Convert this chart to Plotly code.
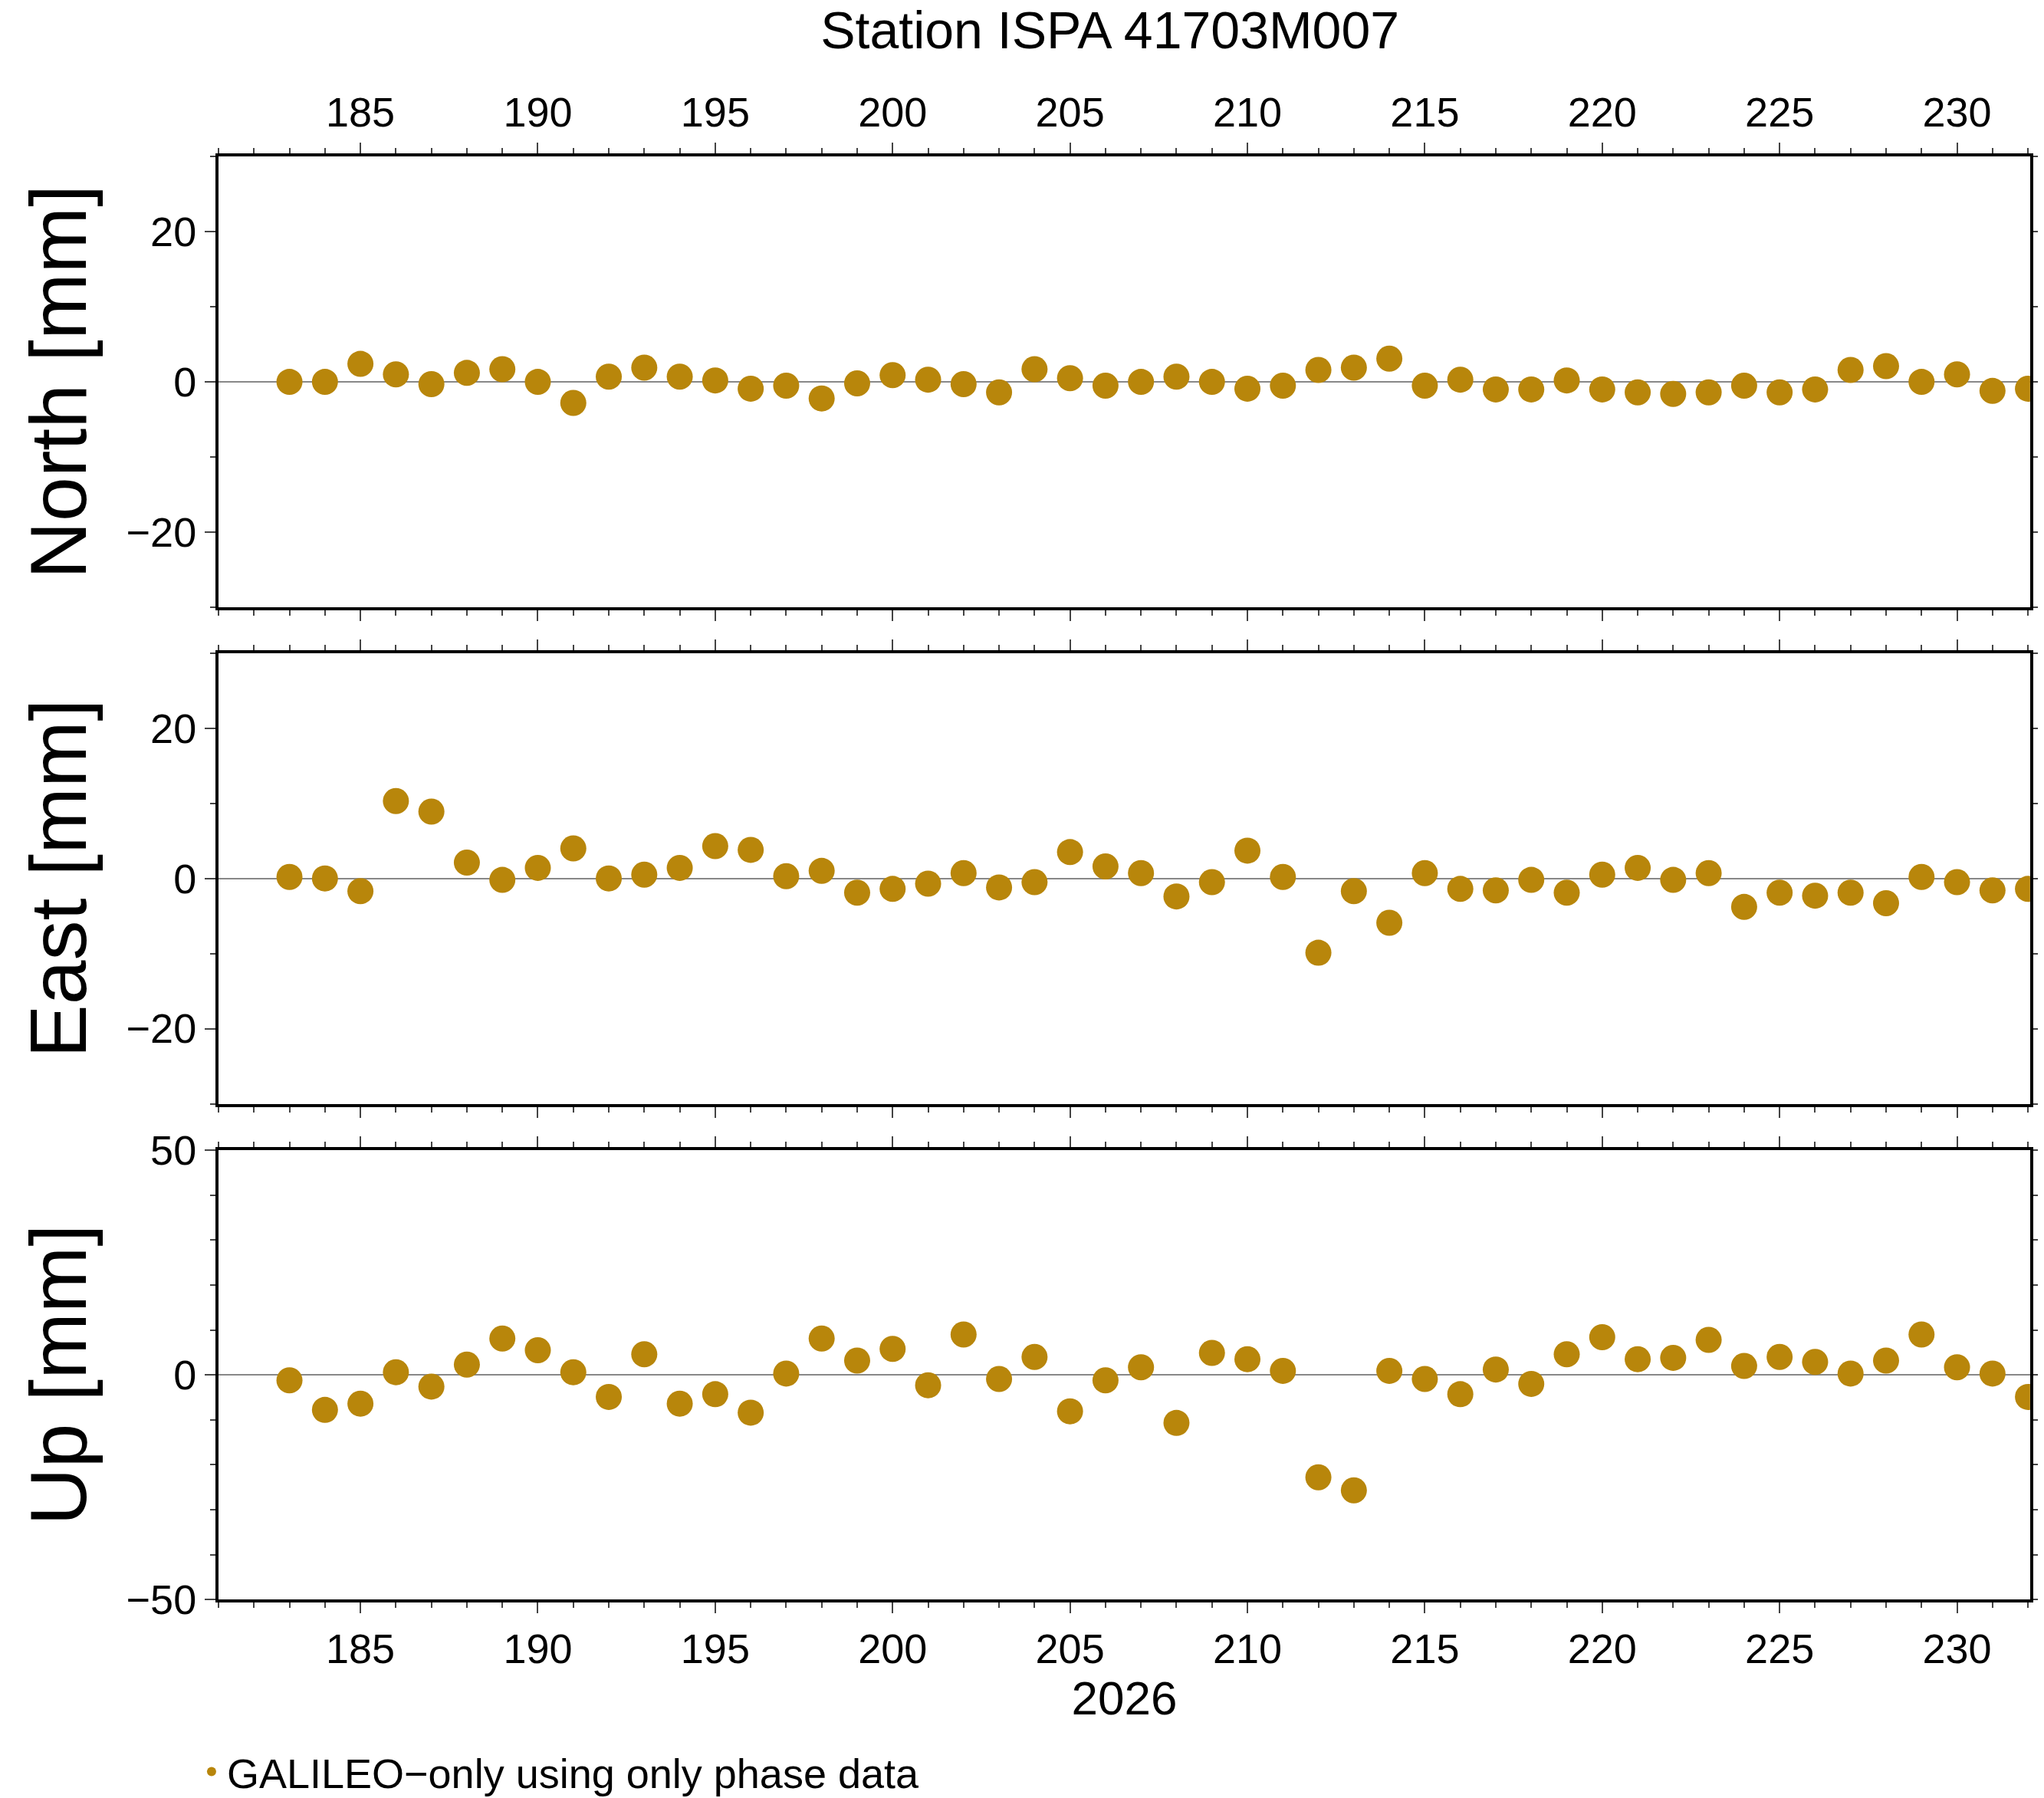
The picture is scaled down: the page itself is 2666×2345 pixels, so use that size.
import plotly.graph_objects as go
from plotly.subplots import make_subplots

days = list(range(183, 233))
north = [0, 0, 2.4, 1, -0.3, 1.2, 1.7, 0, -2.8, 0.7, 1.9, 0.7, 0.2, -0.9, -0.5, -2.2, -0.2, 0.9, 0.3, -0.3,
         -1.4, 1.7, 0.5, -0.5, 0, 0.7, 0, -0.9, -0.5, 1.6, 1.9, 3.1, -0.5, 0.3, -1, -1, 0.2, -1, -1.4, -1.6,
         -1.4, -0.5, -1.4, -1, 1.6, 2.1, 0, 1, -1.2, -0.9]
east = [0.2, 0, -1.7, 10.3, 8.9, 2.1, -0.2, 1.4, 4, 0, 0.5, 1.4, 4.3, 3.8, 0.3, 1, -1.9, -1.4, -0.7, 0.7,
        -1.2, -0.5, 3.5, 1.6, 0.7, -2.4, -0.5, 3.7, 0.2, -9.9, -1.7, -5.9, 0.7, -1.4, -1.6, -0.2, -1.9, 0.5, 1.4, -0.2,
        0.7, -3.8, -1.9, -2.3, -1.9, -3.3, 0.2, -0.5, -1.6, -1.4]
up = [-1.2, -7.8, -6.4, 0.6, -2.6, 2.3, 8.1, 5.5, 0.6, -4.9, 4.6, -6.4, -4.3, -8.4, 0.3, 8.1, 3.2, 5.8, -2.3, 9,
      -0.9, 4, -8.1, -1.2, 1.7, -10.7, 4.9, 3.5, 0.9, -22.8, -25.7, 0.9, -0.9, -4.3, 1.2, -2, 4.6, 8.4, 3.5, 3.8,
      7.8, 2, 4, 2.9, 0.3, 3.2, 9, 1.7, 0.3, -4.9]

panels = [("North [mm]", north, [-30, 30], 20, 10),
          ("East [mm]", east, [-30, 30], 20, 10),
          ("Up [mm]", up, [-50, 50], 50, 10)]
domains = [[0.6644, 0.9160], [0.3872, 0.6388], [0.1104, 0.3612]]
color = "#B8860B"
font = "Liberation Sans, Arial, sans-serif"

fig = make_subplots(rows=3, cols=1)

for i, (title, vals, yr, dt, mdt) in enumerate(panels):
    r = i + 1
    fig.add_trace(go.Scatter(x=days, y=vals, mode="markers",
                             marker=dict(color=color, size=34),
                             name="GALILEO\u2212only using only phase data",
                             showlegend=(i == 0)), row=r, col=1)
    fig.update_yaxes(range=yr, dtick=dt, tick0=0, domain=domains[i], automargin=False,
                     title=dict(text=title, font=dict(size=104), standoff=18),
                     showgrid=False, zeroline=True, zerolinecolor="#888", zerolinewidth=1.5,
                     showline=True, linecolor="black", linewidth=4, mirror="ticks",
                     ticks="outside", ticklen=14, tickwidth=2,
                     minor=dict(dtick=mdt, ticks="outside", ticklen=7, tickwidth=2),
                     row=r, col=1)
    fig.update_xaxes(range=[181, 232.06], dtick=5, tick0=0, domain=[0.1039, 0.9902], automargin=False,
                     showgrid=False, zeroline=False,
                     showline=True, linecolor="black", linewidth=4, mirror="ticks",
                     ticks="outside", ticklen=14, tickwidth=2,
                     minor=dict(dtick=1, ticks="outside", ticklen=7, tickwidth=2),
                     showticklabels=(i != 1),
                     side="top" if i == 0 else "bottom",
                     row=r, col=1)

fig.update_xaxes(title=dict(text="2026", font=dict(size=62), standoff=8), row=3, col=1)

fig.update_layout(
    width=2666, height=2345,
    margin=dict(l=0, r=0, t=0, b=0),
    plot_bgcolor="white", paper_bgcolor="white",
    font=dict(family=font, size=54, color="black"),
    title=dict(text="Station ISPA 41703M007", x=0.54, xanchor="center", y=0.997, yanchor="top",
               font=dict(size=68)),
    legend=dict(x=0.093, y=0.014, xanchor="left", yanchor="middle", itemsizing="constant",
                font=dict(size=54), bgcolor="rgba(0,0,0,0)"),
)

fig.write_html("out.html")
